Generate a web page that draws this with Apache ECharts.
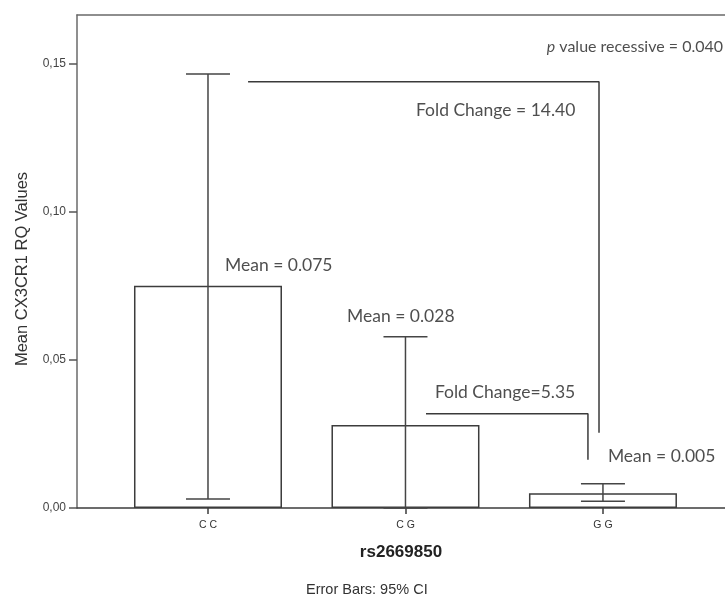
<!DOCTYPE html>
<html>
<head>
<meta charset="utf-8">
<script src="https://cdn.jsdelivr.net/npm/echarts@6/dist/echarts.min.js"></script>
<style>
  html, body { margin: 0; padding: 0; background: #fff; }
  #chart { width: 725px; height: 597px; }
</style>
</head>
<body>
<div id="chart"></div>
<script>
// Genotype groups and their mean CX3CR1 RQ values
const genotypes = ['C C', 'C G', 'G G'];
const meanValues = [0.075, 0.028, 0.005];
// 95% confidence interval bounds per group
const ciLower = [0.003, 0.000, 0.0023];
const ciUpper = [0.1464, 0.0578, 0.0082];
// y-axis ticks
const yTicks = [0, 0.05, 0.10, 0.15];

// Comparison brackets (category position, value)
const bracketRecessive = [[1.203, 0.1438], [2.98, 0.1438], [2.98, 0.0254]];
const bracketCGvsGG = [[2.104, 0.0318], [2.924, 0.0318], [2.924, 0.0163]];

// Annotation texts and their anchors (vertical middle; left edge unless right-aligned)
const noteTexts = ['Mean = 0.075', 'Mean = 0.028', 'Mean = 0.005',
  'Fold Change = 14.40', 'Fold Change=5.35', '{i|p}{s| value recessive = 0.040}'];
const noteX = [1.086, 1.704, 3.025, 2.053, 2.149, 3.608];
const noteY = [0.0820, 0.0648, 0.0174, 0.1340, 0.0389, 0.1556];
const noteAlign = ['left', 'left', 'left', 'left', 'left', 'right'];

const lineColor = '#3c3c3c';
const noteFont = 'Lato, "Open Sans", sans-serif';
const axisFont = '"Liberation Sans", Arial, sans-serif';

const chart = echarts.init(document.getElementById('chart'), null, { renderer: 'canvas' });

const xRange = { min: 0.3367, max: 3.618 };

chart.setOption({
  backgroundColor: '#fff',
  animation: false,
  title: {
    text: 'Error Bars: 95% CI',
    left: 306,
    top: 582,
    padding: 0,
    textStyle: { fontFamily: axisFont, fontSize: 14.5, fontWeight: 'normal', color: '#333' }
  },
  grid: { left: 77, right: 0, top: 15, bottom: 89 },
  xAxis: [
    {
      type: 'value',
      min: xRange.min,
      max: xRange.max,
      splitLine: { show: false },
      axisLine: { lineStyle: { color: lineColor, width: 1.5 } },
      axisTick: { customValues: [1, 2, 3], length: 6, lineStyle: { color: lineColor, width: 1.5 } },
      axisLabel: {
        customValues: [1, 2, 3],
        formatter: v => genotypes[Math.round(v) - 1] || '',
        margin: 12,
        fontFamily: axisFont,
        fontSize: 10.5,
        color: '#333'
      },
      name: 'rs2669850',
      nameLocation: 'middle',
      nameGap: 36,
      nameTextStyle: { fontFamily: axisFont, fontSize: 17, fontWeight: 'bold', color: '#222' }
    },
    {
      // top edge of the plot frame
      type: 'value',
      position: 'top',
      min: xRange.min,
      max: xRange.max,
      splitLine: { show: false },
      axisLine: { show: true, lineStyle: { color: '#6a6a6a', width: 1.5 } },
      axisTick: { show: false },
      axisLabel: { show: false }
    }
  ],
  yAxis: {
    type: 'value',
    min: 0,
    max: 0.1663,
    interval: 0.05,
    splitLine: { show: false },
    axisLine: { show: true, lineStyle: { color: '#6a6a6a', width: 1.5 } },
    axisTick: { show: true, customValues: yTicks, length: 8, lineStyle: { color: '#555', width: 1.5 } },
    axisLabel: {
      customValues: yTicks,
      formatter: v => v.toFixed(2).replace('.', ','),
      margin: 11,
      fontFamily: axisFont,
      fontSize: 12,
      color: '#444'
    },
    name: 'Mean CX3CR1 RQ Values',
    nameLocation: 'middle',
    nameGap: 46,
    nameTextStyle: {
      fontFamily: axisFont, fontSize: 16.5, color: '#333',
      padding: [0, 15, 0, 0]
    }
  },
  series: [
    {
      type: 'bar',
      data: meanValues.map((v, i) => [i + 1, v]),
      barWidth: 148,
      itemStyle: { color: '#fff', borderColor: lineColor, borderWidth: 1.5 },
      z: 2
    },
    {
      type: 'custom',
      data: meanValues.map((v, i) => [i + 1, ciLower[i], ciUpper[i]]),
      renderItem: function (params, api) {
        const x = api.value(0);
        const lo = api.coord([x, api.value(1)]);
        const hi = api.coord([x, api.value(2)]);
        const half = 22;
        const style = { stroke: '#454545', lineWidth: 1.5 };
        return {
          type: 'group',
          children: [
            { type: 'line', shape: { x1: lo[0], y1: lo[1], x2: hi[0], y2: hi[1] }, style },
            { type: 'line', shape: { x1: hi[0] - half, y1: hi[1], x2: hi[0] + half, y2: hi[1] }, style },
            { type: 'line', shape: { x1: lo[0] - half, y1: lo[1], x2: lo[0] + half, y2: lo[1] }, style }
          ]
        };
      },
      z: 3
    },
    {
      type: 'line',
      data: bracketRecessive,
      symbol: 'none',
      lineStyle: { color: '#3a3a3a', width: 1.5 },
      z: 3
    },
    {
      type: 'line',
      data: bracketCGvsGG,
      symbol: 'none',
      lineStyle: { color: '#3a3a3a', width: 1.5 },
      z: 3
    },
    {
      type: 'scatter',
      symbolSize: 0,
      data: noteTexts.map((t, i) => ({
        value: [noteX[i], noteY[i]],
        name: t,
        label: { position: noteAlign[i] === 'right' ? 'left' : 'right', align: noteAlign[i] }
      })),
      label: {
        show: true,
        distance: 0,
        verticalAlign: 'middle',
        formatter: p => p.name,
        fontFamily: noteFont,
        fontSize: 17.5,
        color: '#222',
        rich: {
          i: { fontFamily: noteFont, fontSize: 16, fontStyle: 'italic', color: '#222' },
          s: { fontFamily: noteFont, fontSize: 16, color: '#222' }
        }
      },
      z: 4
    }
  ]
});
</script>
</body>
</html>
